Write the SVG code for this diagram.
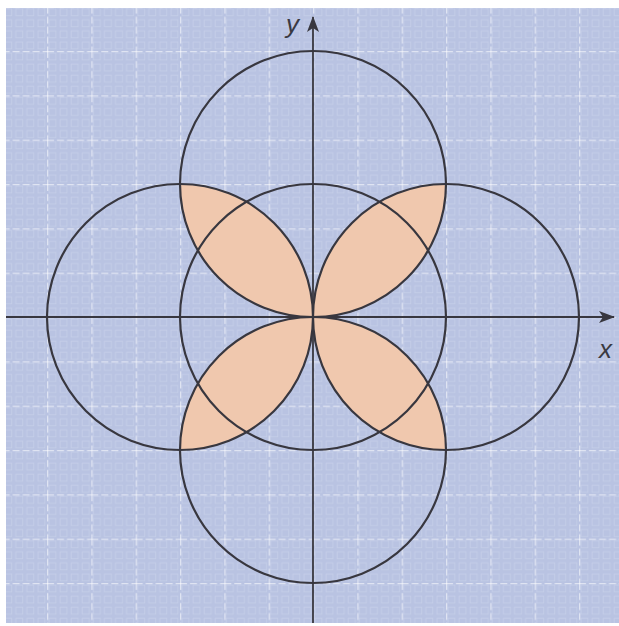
<svg xmlns="http://www.w3.org/2000/svg" width="619" height="626" viewBox="0 0 619 626">
  <style>
    .circ { fill: none; stroke: #38373f; stroke-width: 2.2; }
    .axis { stroke: #38373f; stroke-width: 1.8; fill: none; }
    .lens { fill: #f0c8ae; stroke: none; }
    .lbl { font-family: "Liberation Sans", Arial, sans-serif; font-style: italic; font-size: 26px; fill: #3a3a42; }
  </style>
  <defs>
    <pattern id="minor" patternUnits="userSpaceOnUse" x="313" y="317" width="11.083" height="11.083">
      <rect x="2" y="2" width="7" height="7" fill="none" stroke="#d6ddf0" stroke-width="0.8" stroke-opacity="0.45"/>
    </pattern>
    <pattern id="major" patternUnits="userSpaceOnUse" x="313" y="317" width="44.333" height="44.333">
      <line x1="0" y1="0.5" x2="44.333" y2="0.5" stroke="#ffffff" stroke-width="1.6" stroke-dasharray="7 3" stroke-opacity="0.55"/>
      <line x1="0.5" y1="0" x2="0.5" y2="44.333" stroke="#ffffff" stroke-width="1.6" stroke-dasharray="7 3" stroke-opacity="0.55"/>
    </pattern>
    <path id="lensShape" d="M 313 317 A 133 133 0 0 1 180 184 A 133 133 0 0 1 313 317 Z"/>
    <marker id="arrow" viewBox="0 0 16 12" refX="15" refY="6" markerWidth="16" markerHeight="12" markerUnits="userSpaceOnUse" orient="auto">
      <path d="M0,0 L16,6 L0,12 L4,6 Z" fill="#38373f"/>
    </marker>
  </defs>

  <rect x="0" y="0" width="619" height="626" fill="#ffffff"/>
  <g id="background">
    <rect x="6" y="8" width="613" height="615" fill="#b9c3e2"/>
    <rect x="6" y="8" width="613" height="615" fill="url(#minor)"/>
    <rect x="6" y="8" width="613" height="615" fill="url(#major)"/>
  </g>

  <g id="shaded">
    <use href="#lensShape" class="lens"/>
    <use href="#lensShape" class="lens" transform="rotate(90 313 317)"/>
    <use href="#lensShape" class="lens" transform="rotate(180 313 317)"/>
    <use href="#lensShape" class="lens" transform="rotate(270 313 317)"/>
  </g>

  <g id="circles">
    <circle id="c-center" class="circ" cx="313" cy="317" r="133"/>
    <circle id="c-top" class="circ" cx="313" cy="184" r="133"/>
    <circle id="c-bottom" class="circ" cx="313" cy="450" r="133"/>
    <circle id="c-left" class="circ" cx="180" cy="317" r="133"/>
    <circle id="c-right" class="circ" cx="446" cy="317" r="133"/>
  </g>

  <g id="axes">
    <line class="axis" x1="6" y1="317" x2="614" y2="317" marker-end="url(#arrow)"/>
    <line class="axis" x1="313" y1="623" x2="313" y2="17" marker-end="url(#arrow)"/>
    <text class="lbl" x="599" y="358">x</text>
    <text class="lbl" x="286" y="33">y</text>
  </g>
</svg>
